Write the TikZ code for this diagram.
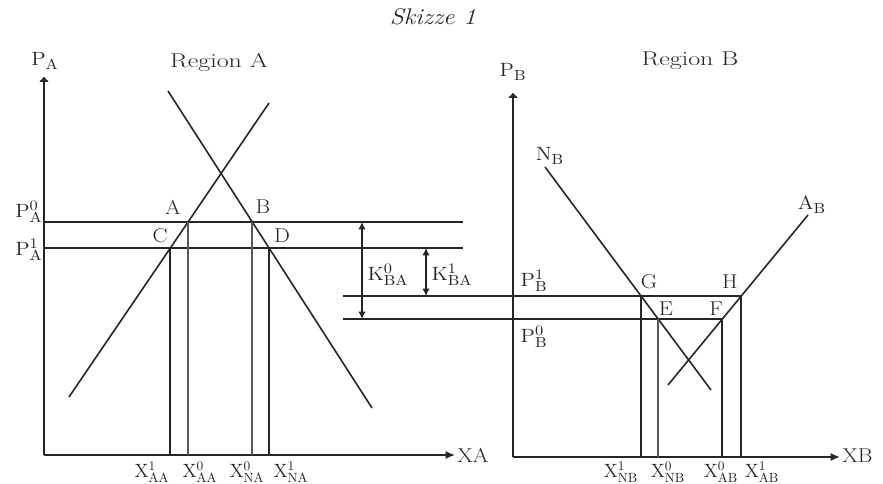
\documentclass[tikz,border=0pt]{standalone}
\usetikzlibrary{arrows.meta}
\newcommand\wtxt[1]{\scalebox{1.12}[1]{#1}}
\newcommand\wreg[1]{\scalebox{1.3}[1]{#1}}
\begin{document}
\begin{tikzpicture}[x=0.75pt,y=-0.75pt,
  ln/.style={line width=1.2pt, draw=black!85},
  lnl/.style={line width=0.9pt, draw=black!65},
  lbl/.style={font=\fontsize{15}{17}\selectfont, inner sep=0pt, text=black!85},
  blbl/.style={font=\fontsize{14}{16}\selectfont, inner sep=0pt, text=black!85},
  xaxis/.style={ln, -{Latex[length=7pt,width=6pt]}},
  yaxis/.style={ln, -{Latex[length=4pt,width=8.5pt,round]}},
  karrow/.style={line width=1pt, draw=black!85, {Latex[length=5.5pt,width=5.5pt]}-{Latex[length=5.5pt,width=5.5pt]}}
]
\useasboundingbox (0,0) rectangle (883,484);

% ---------- coordinates: Region A ----------
\coordinate (OA) at (44,455);
\coordinate (YA) at (44,77);
\coordinate (XAe) at (455,455);
\coordinate (DA1) at (168,91);
\coordinate (DA2) at (372,408);
\coordinate (SA1) at (269,103);
\coordinate (SA2) at (69,397);
\coordinate (pA) at (188,222);
\coordinate (pB) at (252,222);
\coordinate (pC) at (170,248);
\coordinate (pD) at (269,248);
\coordinate (PA0s) at (44,222);
\coordinate (PA0e) at (463,222);
\coordinate (PA1s) at (44,248);
\coordinate (PA1e) at (463,248);
\coordinate (bC) at (170,455);
\coordinate (bA) at (188,455);
\coordinate (bB) at (252,455);
\coordinate (bD) at (269,455);

% ---------- coordinates: Region B ----------
\coordinate (OB) at (513,457);
\coordinate (YB) at (513,93);
\coordinate (XBe) at (840,457);
\coordinate (NB1) at (545,167);
\coordinate (NB2) at (711,390);
\coordinate (AB1) at (808,215);
\coordinate (AB2) at (668,385);
\coordinate (pG) at (641,296);
\coordinate (pE) at (658,319);
\coordinate (pH) at (741,296);
\coordinate (pF) at (722,319);
\coordinate (PB1s) at (343,296);
\coordinate (PB0s) at (343,319);
\coordinate (bG) at (641,457);
\coordinate (bE) at (658,457);
\coordinate (bF) at (722,457);
\coordinate (bH) at (741,457);

% K arrows
\coordinate (K0t) at (362,222);
\coordinate (K0b) at (362,319);
\coordinate (K1t) at (426,248);
\coordinate (K1b) at (426,296);

% ---------- drawing Region A ----------
\draw[yaxis] (OA) -- (YA);
\draw[xaxis] (OA) -- (XAe);
\draw[ln] (DA1) -- (DA2);
\draw[ln] (SA1) -- (SA2);
\draw[ln] (PA0s) -- (PA0e);
\draw[ln] (PA1s) -- (PA1e);
\draw[ln] (pC) -- (bC);
\draw[lnl] (pA) -- (bA);
\draw[lnl] (pB) -- (bB);
\draw[ln] (pD) -- (bD);

% ---------- drawing Region B ----------
\draw[yaxis] (OB) -- (YB);
\draw[xaxis] (OB) -- (XBe);
\draw[ln] (NB1) -- (NB2);
\draw[ln] (AB1) -- (AB2);
\draw[ln] (PB1s) -- (pH);
\draw[ln] (PB0s) -- (pF);
\draw[ln] (pG) -- (bG);
\draw[lnl] (pE) -- (bE);
\draw[ln] (pF) -- (bF);
\draw[ln] (pH) -- (bH);

% K arrows
\draw[karrow] (K0t) -- (K0b);
\draw[karrow] (K1t) -- (K1b);

% ---------- labels ----------
\node[lbl, font=\fontsize{17}{19}\selectfont\itshape] (title) at (433,17) {\wtxt{Skizze 1}};
\node[lbl] (lPA) at (45,61) {\wtxt{$\mathrm{P}_{\mathrm{A}}$}};
\node[lbl] (lRA) at (219,62) {\wreg{Region A}};
\node[lbl] (lPA0) at (29,212) {\wtxt{$\mathrm{P}_{\mathrm{A}}^{0}$}};
\node[lbl] (lPA1) at (29,250) {\wtxt{$\mathrm{P}_{\mathrm{A}}^{1}$}};
\node[lbl] (lA) at (173,207) {\wtxt{A}};
\node[lbl] (lB) at (263,207) {\wtxt{B}};
\node[lbl] (lC) at (160,236) {\wtxt{C}};
\node[lbl] (lD) at (282,236) {\wtxt{D}};
\node[lbl] (lK0) at (388,275) {\wtxt{$\mathrm{K}_{\mathrm{BA}}^{0}$}};
\node[lbl] (lK1) at (452,275) {\wtxt{$\mathrm{K}_{\mathrm{BA}}^{1}$}};

\node[lbl] (lPB) at (513,72) {\wtxt{$\mathrm{P}_{\mathrm{B}}$}};
\node[lbl] (lRB) at (690,61) {\wreg{Region B}};
\node[lbl] (lNB) at (550,156) {\wtxt{$\mathrm{N}_{\mathrm{B}}$}};
\node[lbl] (lAB) at (812,205) {\wtxt{$\mathrm{A}_{\mathrm{B}}$}};
\node[lbl] (lG) at (649,282) {\wtxt{G}};
\node[lbl] (lH) at (730,282) {\wtxt{H}};
\node[lbl] (lE) at (666,309) {\wtxt{E}};
\node[lbl] (lF) at (716,309) {\wtxt{F}};
\node[lbl] (lPB1) at (534,281) {\wtxt{$\mathrm{P}_{\mathrm{B}}^{1}$}};
\node[lbl] (lPB0) at (534,337) {\wtxt{$\mathrm{P}_{\mathrm{B}}^{0}$}};

\node[blbl] (lXAA1) at (152,472) {$\mathrm{X}_{\mathrm{AA}}^{1}$};
\node[blbl] (lXAA0) at (200,472) {$\mathrm{X}_{\mathrm{AA}}^{0}$};
\node[blbl] (lXNA0) at (247,472) {$\mathrm{X}_{\mathrm{NA}}^{0}$};
\node[blbl] (lXNA1) at (291,472) {$\mathrm{X}_{\mathrm{NA}}^{1}$};
\node[lbl, anchor=west] (lXA) at (457,455) {\wtxt{XA}};

\node[blbl] (lXNB1) at (621,472) {$\mathrm{X}_{\mathrm{NB}}^{1}$};
\node[blbl] (lXNB0) at (668,472) {$\mathrm{X}_{\mathrm{NB}}^{0}$};
\node[blbl] (lXAB0) at (721,472) {$\mathrm{X}_{\mathrm{AB}}^{0}$};
\node[blbl] (lXAB1) at (762,472) {$\mathrm{X}_{\mathrm{AB}}^{1}$};
\node[lbl, anchor=west] (lXB) at (842,456) {\wtxt{XB}};
\end{tikzpicture}
\end{document}
